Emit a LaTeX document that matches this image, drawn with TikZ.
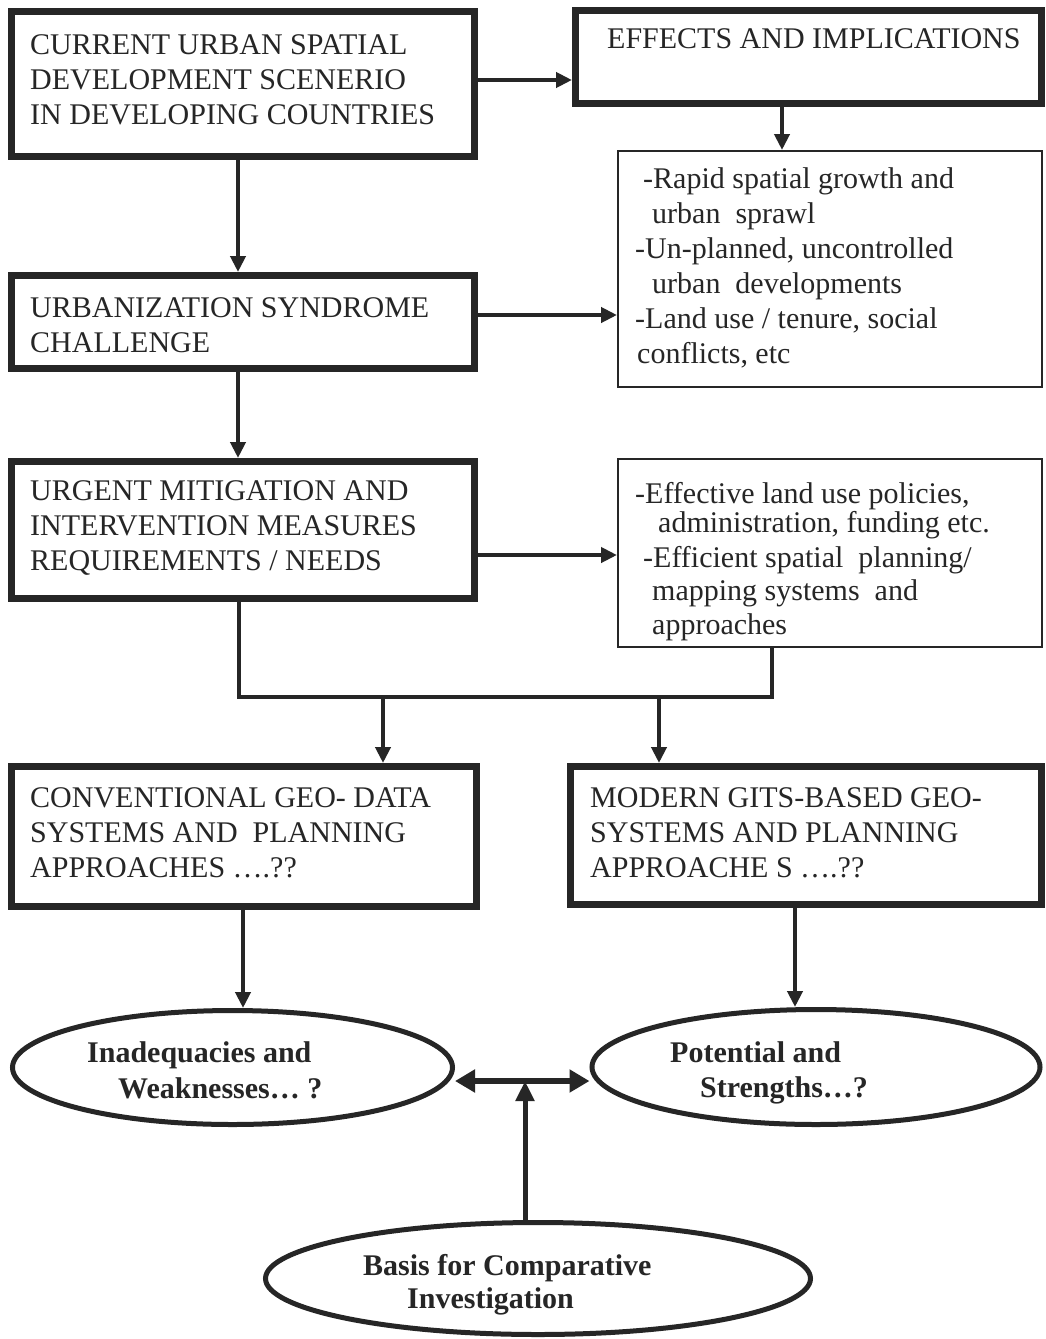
\documentclass[tikz,border=0pt]{standalone}
\usepackage{fontspec}
\setmainfont{Liberation Serif}
\usetikzlibrary{arrows.meta,shapes.geometric}
\definecolor{ink}{HTML}{262626}
\begin{document}
\begin{tikzpicture}[x=1pt,y=-1pt,
  bigbox/.style={draw=ink, line width=7pt, rectangle, inner sep=0pt},
  thinbox/.style={draw=ink, line width=2pt, rectangle, inner sep=0pt},
  oval/.style={draw=ink, line width=5pt, ellipse, inner sep=0pt},
  txt/.style={anchor=base west, inner sep=0pt, text=ink, font=\fontsize{30}{35}\selectfont},
  btxt/.style={anchor=base west, inner sep=0pt, text=ink, font=\fontsize{30}{35}\selectfont\bfseries},
  ln/.style={draw=ink, line width=4pt},
  arr/.style={draw=ink, line width=4pt, -{Triangle[length=16pt,width=15pt]}},
  uparr/.style={draw=ink, line width=5pt, -{Triangle[length=20pt,width=18pt]}},
  dblarr/.style={draw=ink, line width=6pt, {Triangle[length=20pt,width=22pt]}-{Triangle[length=20pt,width=22pt]}},
]
\useasboundingbox (0,0) rectangle (1045,1339);
\fill[white] (0,0) rectangle (1045,1339);

% boxes
\node[bigbox, minimum width=463pt, minimum height=145pt] (b1) at (243,84) {};
\node[bigbox, minimum width=466pt, minimum height=93pt] (eff) at (808.5,57) {};
\node[thinbox, minimum width=424pt, minimum height=236pt] (l1) at (830,269) {};
\node[bigbox, minimum width=463pt, minimum height=93pt] (urb) at (243,322) {};
\node[bigbox, minimum width=463pt, minimum height=137pt] (urg) at (243,530) {};
\node[thinbox, minimum width=424pt, minimum height=188pt] (l2) at (830,553) {};
\node[bigbox, minimum width=465pt, minimum height=140pt] (conv) at (244,836.5) {};
\node[bigbox, minimum width=471pt, minimum height=138pt] (mod) at (806,835.5) {};
\node[oval, minimum width=440pt, minimum height=114pt] (e1) at (232.5,1067.5) {};
\node[oval, minimum width=448pt, minimum height=115pt] (e2) at (816,1067) {};
\node[oval, minimum width=545pt, minimum height=112pt] (e3) at (538,1278.5) {};

% texts
\node[txt] (t1) at (30,54) {\begin{tabular}[t]{@{}l@{}}CURRENT URBAN SPATIAL\\DEVELOPMENT SCENERIO\\IN DEVELOPING COUNTRIES\end{tabular}};
\node[txt] (t2) at (607,48) {EFFECTS AND IMPLICATIONS};
\node[txt] (t3) at (635,188) {\begin{tabular}[t]{@{}l@{}}\hspace*{8pt}-Rapid spatial growth and\\\hspace*{17pt}urban\hspace{0.5em}sprawl\\-Un-planned, uncontrolled\\\hspace*{17pt}urban\hspace{0.5em}developments\\-Land use / tenure, social\\\hspace*{2pt}conflicts, etc\end{tabular}};
\node[txt] (t4) at (30,317) {\begin{tabular}[t]{@{}l@{}}URBANIZATION SYNDROME\\CHALLENGE\end{tabular}};
\node[txt] (t5) at (30,500) {\begin{tabular}[t]{@{}l@{}}URGENT MITIGATION AND\\INTERVENTION MEASURES\\REQUIREMENTS / NEEDS\end{tabular}};
\node[txt] (t6) at (635,503) {\begin{tabular}[t]{@{}l@{}}-Effective land use policies,\\[-6pt]\hspace*{23pt}administration, funding etc.\\\hspace*{8pt}-Efficient spatial\hspace{0.5em}planning/\\[-2pt]\hspace*{17pt}mapping systems\hspace{0.5em}and\\[-1pt]\hspace*{17pt}approaches\end{tabular}};
\node[txt] (t7) at (30,807) {\begin{tabular}[t]{@{}l@{}}CONVENTIONAL GEO- DATA\\SYSTEMS AND\hspace{0.5em}PLANNING\\APPROACHES ….??\end{tabular}};
\node[txt] (t8) at (590,807) {\begin{tabular}[t]{@{}l@{}}MODERN GITS-BASED GEO-\\SYSTEMS AND PLANNING\\APPROACHE S ….??\end{tabular}};
\node[btxt] (t9) at (87,1062) {\begin{tabular}[t]{@{}l@{}}Inadequacies and\\[1pt]\hspace*{31pt}Weaknesses… ?\end{tabular}};
\node[btxt] (t10) at (670,1062) {\begin{tabular}[t]{@{}l@{}}Potential and\\\hspace*{30pt}Strengths…?\end{tabular}};
\node[btxt] (t11) at (363,1275) {\begin{tabular}[t]{@{}l@{}}Basis for Comparative\\[-2pt]\hspace*{44pt}Investigation\end{tabular}};

% junction coordinates
\coordinate (j1) at (239,697);
\coordinate (j2) at (772,697);
\coordinate (c1) at (383,697);
\coordinate (c2) at (659,697);
\coordinate (m) at (525,1081);

% connectors
\draw[arr] (b1.east |- 0,80) -- (eff.west |- 0,80);
\draw[arr] (eff.south -| 782,0) -- (l1.north -| 782,0);
\draw[arr] (b1.south -| 238,0) -- (urb.north -| 238,0);
\draw[arr] (urb.east |- 0,315) -- (l1.west |- 0,315);
\draw[arr] (urb.south -| 238,0) -- (urg.north -| 238,0);
\draw[arr] (urg.east |- 0,555) -- (l2.west |- 0,555);
\draw[ln, line join=miter] (urg.south -| j1) -- (j1) -- (j2) -- (l2.south -| j2);
\draw[arr] (c1) -- (conv.north -| c1);
\draw[arr] (c2) -- (mod.north -| c2);
\draw[arr] (conv.south -| 243,0) -- (e1.north -| 243,0);
\draw[arr] (mod.south -| 795,0) -- (e2.north -| 795,0);
\draw[dblarr] (e1.east |- m) -- (e2.west |- m);
\draw[uparr] (e3.north -| m) -- (m);
\end{tikzpicture}
\end{document}
